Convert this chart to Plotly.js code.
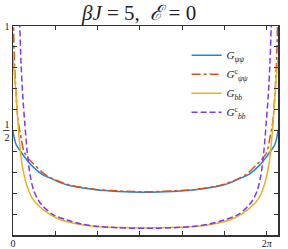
<!DOCTYPE html>
<html>
<head>
<meta charset="utf-8">
<script src="https://cdn.plot.ly/plotly-3.0.1.min.js"></script>
<style>html,body{margin:0;padding:0;background:#fff;}#chart{width:288px;height:249px;}</style>
</head>
<body>
<div id="chart"></div>
<script>
// Imaginary-time axis values (period of the plotted range ~6.56)
const tauPsi = [0, 0.03, 0.08, 0.15, 0.21, 0.30, 0.46, 0.70, 0.87, 1.33, 2.06, 2.60, 3.28, 3.96, 4.50, 5.23, 5.69, 5.86, 6.10, 6.26, 6.35, 6.41, 6.48, 6.53, 6.56];
const Gpsi   = [0.50, 0.465, 0.432, 0.41, 0.395, 0.37, 0.333, 0.293, 0.277, 0.24, 0.216, 0.208, 0.204, 0.208, 0.216, 0.24, 0.277, 0.293, 0.333, 0.37, 0.395, 0.41, 0.432, 0.465, 0.50];

const tauPsiC = [0.008, 0.027, 0.057, 0.094, 0.131, 0.205, 0.28, 0.43, 0.54, 0.79, 1.33, 2.06, 2.60, 3.28, 3.96, 4.50, 5.23, 5.77, 6.02, 6.13, 6.28, 6.355, 6.429, 6.466, 6.503, 6.533, 6.552];
const GpsiC   = [1.05, 0.88, 0.74, 0.62, 0.54, 0.46, 0.395, 0.355, 0.335, 0.29, 0.243, 0.218, 0.211, 0.207, 0.211, 0.218, 0.243, 0.29, 0.335, 0.355, 0.395, 0.46, 0.54, 0.62, 0.74, 0.88, 1.05];

const tauB = [0, 0.03, 0.06, 0.10, 0.15, 0.222, 0.346, 0.509, 0.756, 1.087, 1.50, 2.06, 2.60, 3.28, 3.96, 4.50, 5.06, 5.473, 5.804, 6.051, 6.214, 6.338, 6.41, 6.46, 6.50, 6.53, 6.56];
const Gb   = [0.85, 0.78, 0.71, 0.60, 0.47, 0.34, 0.235, 0.167, 0.12, 0.08, 0.056, 0.041, 0.036, 0.034, 0.036, 0.041, 0.056, 0.08, 0.12, 0.167, 0.235, 0.34, 0.47, 0.60, 0.71, 0.78, 0.85];

const tauBC = [0.15, 0.168, 0.20, 0.24, 0.29, 0.35, 0.42, 0.509, 0.63, 0.756, 1.0, 1.334, 1.70, 2.06, 2.60, 3.28, 3.96, 4.50, 4.86, 5.226, 5.56, 5.804, 5.93, 6.051, 6.14, 6.21, 6.27, 6.32, 6.36, 6.392, 6.41];
const GbC   = [1.15, 1.0, 0.82, 0.67, 0.54, 0.40, 0.29, 0.215, 0.165, 0.135, 0.096, 0.072, 0.052, 0.042, 0.035, 0.032, 0.035, 0.042, 0.052, 0.072, 0.096, 0.135, 0.165, 0.215, 0.29, 0.40, 0.54, 0.67, 0.82, 1.0, 1.15];

const xTickVals = [0, Math.PI/3, 2*Math.PI/3, Math.PI, 4*Math.PI/3, 5*Math.PI/3, 2*Math.PI];
const xTickText = ['0', '', '', '', '', '', '2<i>π</i>'];
const yTickVals = [0, 0.1, 0.2, 0.3, 0.4, 0.5, 0.6, 0.7, 0.8, 0.9, 1];
const yTickText = ['', '', '', '', '', '1<br>2', '', '', '', '', '1'];

const serif = 'Liberation Serif, DejaVu Serif, serif';

const traces = [
  {x: tauPsi, y: Gpsi, mode: 'lines', name: '<i>G</i><sub><i>ψψ</i></sub>',
   line: {color: '#1f84e6', width: 1.5, shape: 'spline', smoothing: 0.8}},
  {x: tauPsiC, y: GpsiC, mode: 'lines', name: '<i>G</i><sup>c</sup><sub><i>ψψ</i></sub>',
   line: {color: '#D95319', width: 1.5, dash: 'dashdot', shape: 'spline', smoothing: 0.8}},
  {x: tauB, y: Gb, mode: 'lines', name: '<i>G</i><sub><i>bb</i></sub>',
   line: {color: '#EDB120', width: 1.5, shape: 'spline', smoothing: 0.8}},
  {x: tauBC, y: GbC, mode: 'lines', name: '<i>G</i><sup>c</sup><sub><i>bb</i></sub>',
   line: {color: '#7B3AF0', width: 1.5, dash: '6px,3px', shape: 'spline', smoothing: 0.8}}
];

const layout = {
  width: 288, height: 249,
  margin: {l: 13, r: 10, t: 26, b: 14, pad: 0},
  paper_bgcolor: '#fff', plot_bgcolor: '#fff',
  showlegend: true,
  title: {text: '<i>βJ</i> = 5,  <i>ℰ</i> = 0', x: 0.483, xanchor: 'center', y: 1 - 13/249, yref: 'container', yanchor: 'middle',
          font: {family: serif, size: 21, color: '#222'}},
  xaxis: {range: [0, 6.56], tickmode: 'array', tickvals: xTickVals, ticktext: xTickText,
          ticks: 'inside', ticklen: 4, tickwidth: 1, tickcolor: '#333', mirror: 'ticks',
          showline: true, linecolor: '#333', linewidth: 1.5, showgrid: false, zeroline: false,
          tickfont: {family: serif, size: 10, color: '#222'}, ticklabelstandoff: -2},
  yaxis: {range: [0, 1], tickmode: 'array', tickvals: yTickVals, ticktext: yTickText,
          ticks: 'inside', ticklen: 4, tickwidth: 1, tickcolor: '#333', mirror: 'ticks',
          showline: true, linecolor: '#333', linewidth: 1.5, showgrid: false, zeroline: false,
          tickfont: {family: serif, size: 10, color: '#222'}, ticklabelstandoff: 0},
  legend: {x: 0.655, y: 0.93, xanchor: 'left', yanchor: 'top', bgcolor: 'rgba(255,255,255,0)',
           borderwidth: 0, font: {family: serif, size: 11, color: '#222'}, tracegroupgap: 0, itemwidth: 30},
  shapes: [
    {type: 'line', xref: 'paper', yref: 'y', x0: -0.038, x1: -0.013, y0: 0.5, y1: 0.5, line: {color: '#222', width: 0.8}}
  ]
};

Plotly.newPlot('chart', traces, layout, {displayModeBar: false, staticPlot: true});
</script>
</body>
</html>
